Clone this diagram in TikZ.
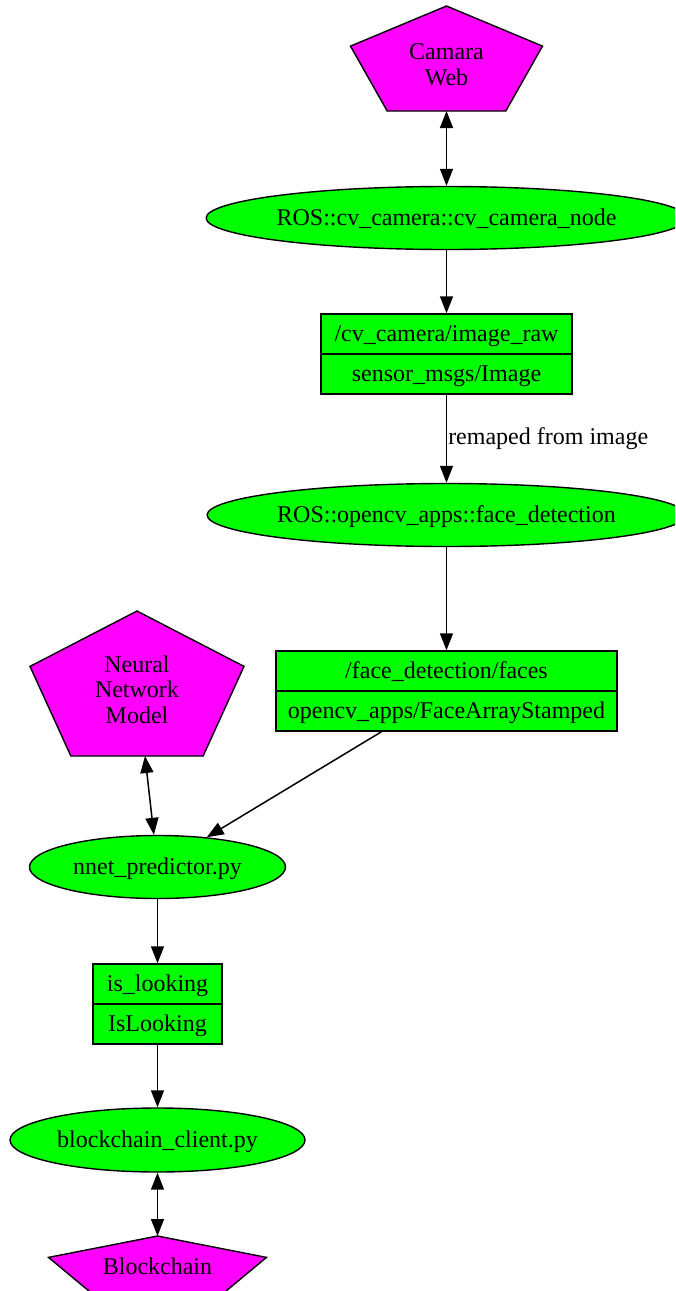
\documentclass[tikz,border=0pt]{standalone}
\usepackage{fontspec}
\setmainfont{Liberation Serif}
\usetikzlibrary{shapes.geometric,arrows.meta}
\definecolor{nodegreen}{RGB}{0,255,0}
\definecolor{nodemag}{RGB}{255,0,255}
\tikzset{
 base/.style={draw=black, line width=1.4pt, font=\fontsize{24}{26}\selectfont, text height=18pt, text depth=3pt, inner sep=0pt},
 rosnode/.style={base, ellipse, fill=nodegreen, minimum height=63pt},
 topicrow/.style={base, rectangle, fill=nodegreen, minimum height=40pt},
 pentfill/.style={draw=black, line width=1.4pt, fill=nodemag, line join=miter},
 pentlabel/.style={font=\fontsize{24}{25.5}\selectfont, align=center, inner sep=0pt},
 edgelabel/.style={font=\fontsize{24}{26}\selectfont, inner sep=1pt},
 edge/.style={line width=1.5pt, -{Triangle[length=17pt,width=13pt]}},
 biedge/.style={line width=1.5pt, {Triangle[length=17pt,width=13pt]}-{Triangle[length=17pt,width=13pt]}},
}
\newcommand\pentpoly[4]{%
 \filldraw[pentfill] (#1,#2) -- ({#1+#3},{#2+0.382*#4}) -- ({#1+0.618*#3},{#2+#4}) -- ({#1-0.618*#3},{#2+#4}) -- ({#1-#3},{#2+0.382*#4}) -- cycle;}
\begin{document}
\begin{tikzpicture}[x=1pt,y=-1pt]
\useasboundingbox (0,0) rectangle (675,1291);
\clip (0,0) rectangle (675,1291);

\pentpoly{446.5}{6}{96}{105}
\node[pentlabel] (cam) at (446.5,64.5) {Camara\\Web};
\coordinate (camB) at (446.5,111);

\node[rosnode, minimum width=466pt] (ros1) at (446.5,218) {ROS::cv\_camera::cv\_camera\_node};

\node[topicrow, minimum width=251pt] (t1a) at (446.5,334) {/cv\_camera/image\_raw};
\node[topicrow, minimum width=251pt] (t1b) at (446.5,374) {sensor\_msgs/Image};

\node[rosnode, minimum width=462pt] (ros2) at (446.5,515) {ROS::opencv\_apps::face\_detection};

\node[topicrow, minimum width=341pt] (t2a) at (446.5,671) {/face\_detection/faces};
\node[topicrow, minimum width=341pt] (t2b) at (446.5,711) {opencv\_apps/FaceArrayStamped};

\pentpoly{137}{611}{107}{145}
\node[pentlabel] (nn) at (137,689.5) {Neural\\Network\\Model};
\coordinate (nnB) at (145,756);

\node[rosnode, minimum width=256pt] (nnet) at (157.5,867) {nnet\_predictor.py};

\node[topicrow, minimum width=129pt] (t3a) at (157.5,984) {is\_looking};
\node[topicrow, minimum width=129pt] (t3b) at (157.5,1024) {IsLooking};

\node[rosnode, minimum width=295pt, minimum height=64pt] (bc) at (157.5,1140) {blockchain\_client.py};

\pentpoly{157.5}{1236}{109}{56}
\node[pentlabel] (chain) at (157.5,1266) {Blockchain};
\coordinate (chainT) at (157.5,1236);

\draw[biedge] (camB) -- (ros1);
\draw[edge] (ros1) -- (t1a);
\draw[edge] (t1b) -- node[right, edgelabel] {remaped from image} (ros2);
\draw[edge] (ros2) -- (t2a);
\draw[edge] ([xshift=-65pt]t2b.south) -- (nnet);
\draw[biedge] (nnB) -- (nnet);
\draw[edge] (nnet) -- (t3a);
\draw[edge] (t3b) -- (bc);
\draw[biedge] (bc) -- (chainT);
\end{tikzpicture}
\end{document}
